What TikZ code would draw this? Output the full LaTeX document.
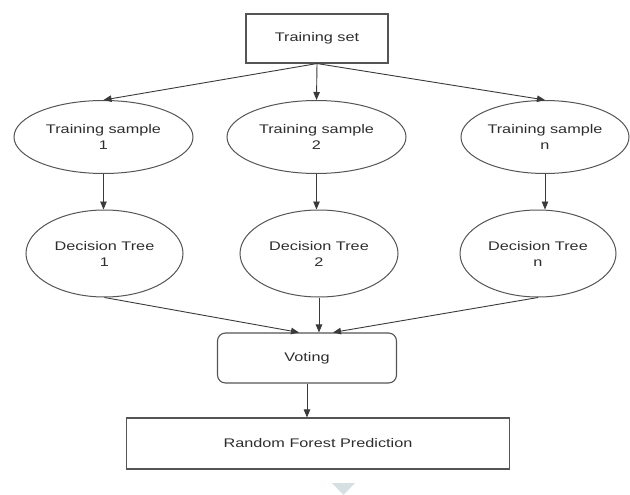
\documentclass[tikz,border=0pt]{standalone}
\usepackage{fontspec}
\setmainfont{Liberation Sans}[FakeStretch=1.3]
\usetikzlibrary{arrows.meta,shapes.geometric,calc}
\definecolor{linec}{HTML}{3A3A3A}
\definecolor{boxc}{HTML}{555555}
\definecolor{txtc}{HTML}{2E2E2E}
\definecolor{tric}{HTML}{D6E0E2}
\begin{document}
\begin{tikzpicture}[x=1pt,y=-1pt,
  every node/.style={font=\fontsize{12.5}{16}\selectfont, text=txtc, align=center, inner sep=0pt},
  sqbox/.style={draw=boxc, line width=1.1pt, rectangle},
  rbox/.style={draw=boxc, line width=1.1pt, rectangle, rounded corners=8pt},
  oval/.style={draw=boxc, line width=1pt, ellipse},
  conn/.style={draw=linec, line width=0.9pt, -{Triangle[length=8pt,width=6.5pt]}}
]
\useasboundingbox (0,0) rectangle (630,495);
\fill[white] (0,0) rectangle (630,495);

\node[sqbox, minimum width=142pt, minimum height=49pt] (ts) at (317,38.5) {Training set};

\node[oval, minimum width=179pt, minimum height=73pt] (s1) at (103.5,137) {Training sample\\1};
\node[oval, minimum width=179pt, minimum height=73pt] (s2) at (316.5,137) {Training sample\\2};
\node[oval, minimum width=168pt, minimum height=73pt] (sn) at (545,137) {Training sample\\n};

\node[oval, minimum width=157pt, minimum height=87pt] (t1) at (104.5,253.5) {Decision Tree\\1};
\node[oval, minimum width=158pt, minimum height=87pt] (t2) at (319,253.5) {Decision Tree\\2};
\node[oval, minimum width=156pt, minimum height=87pt] (tn) at (538,253.5) {Decision Tree\\n};

\node[rbox, minimum width=179pt, minimum height=50pt] (vote) at (307,358) {Voting};
\node[sqbox, minimum width=383pt, minimum height=51pt] (rf) at (318,443.5) {Random Forest Prediction};

\draw[conn] (ts.south) -- (s1.north);
\draw[conn] (ts.south) -- (s2.north);
\draw[conn] (ts.south) -- (sn.north);

\draw[conn] (s1.south) -- (s1.south |- t1.north);
\draw[conn] (s2.south) -- (s2.south |- t2.north);
\draw[conn] (sn.south) -- (sn.south |- tn.north);

\draw[conn] (t1.south) -- ([xshift=-8pt]vote.north);
\draw[conn] (t2.south) -- (t2.south |- vote.north);
\draw[conn] (tn.south) -- ([xshift=26pt]vote.north);

\draw[conn] (vote.south) -- (vote.south |- rf.north);

\fill[tric] (332,483) -- (355,483) -- (343.5,495) -- cycle;
\end{tikzpicture}
\end{document}
